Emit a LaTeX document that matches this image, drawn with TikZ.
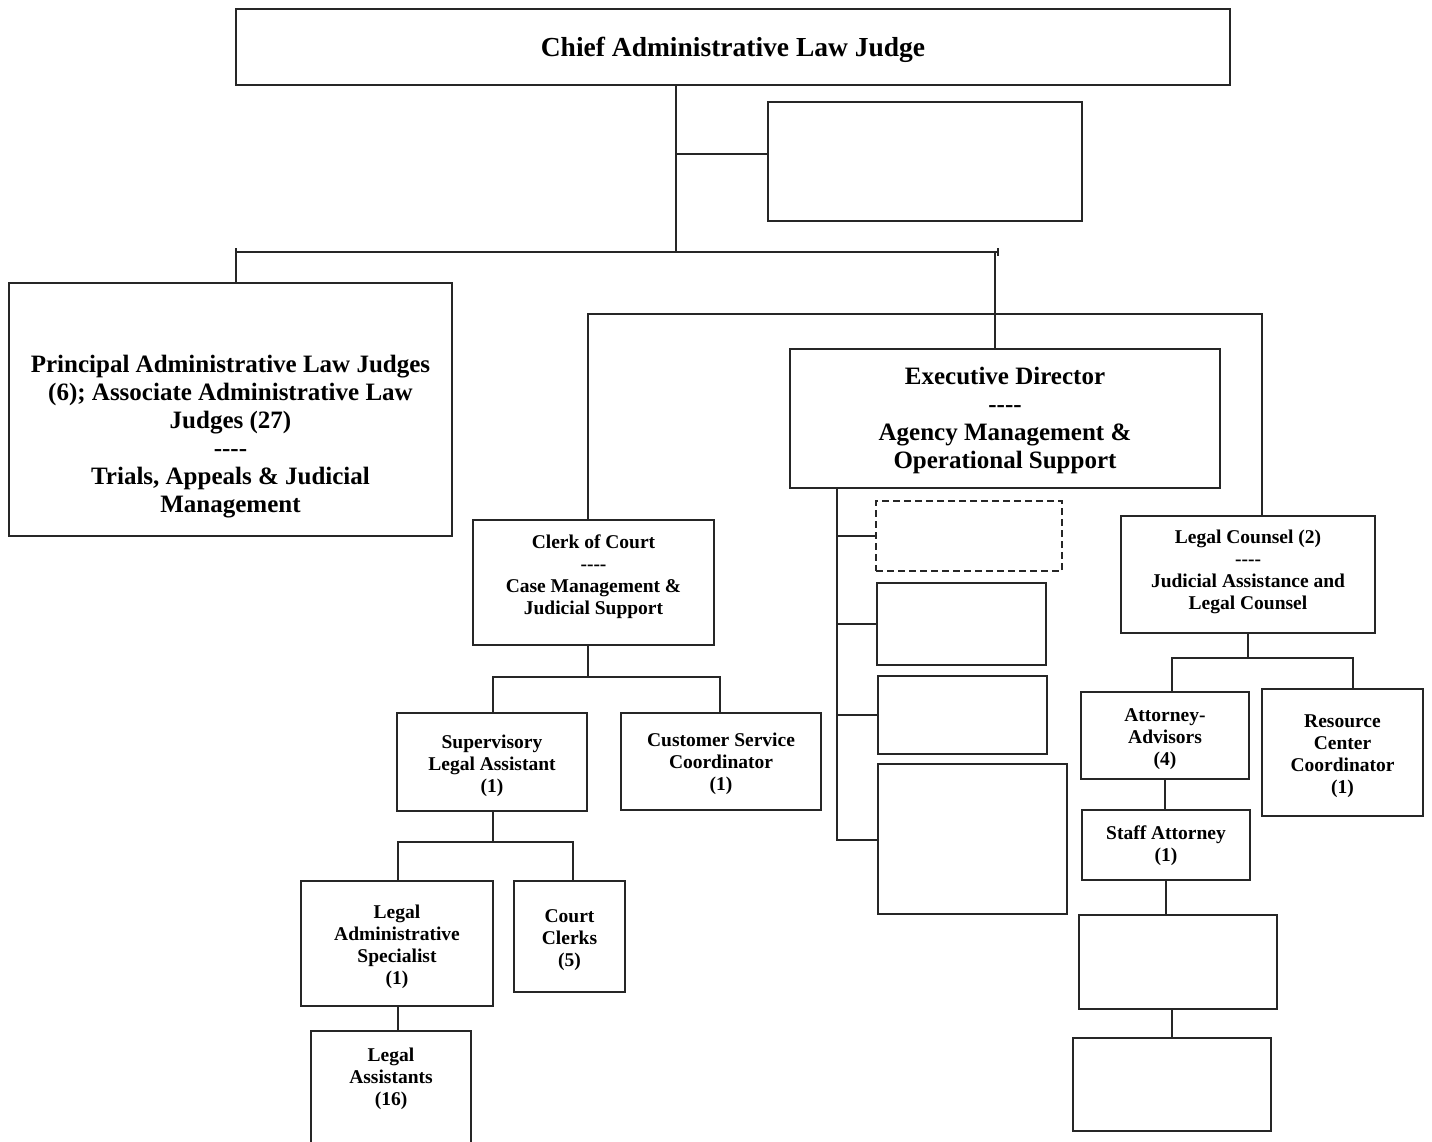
\documentclass[tikz,border=0pt]{standalone}
\usepackage{fontspec}
\setmainfont{Liberation Serif}
\newcommand\sepline{\mbox{-}\mbox{-}\mbox{-}\mbox{-}}
\newcommand\shifttext[2]{\raisebox{#1}[\height][\depth]{\begin{tabular}{@{}c@{}}#2\end{tabular}}}
\tikzset{
  orgbox/.style={draw=black!85, line width=1.2pt, align=center, inner sep=2pt,
    font=\bfseries\fontsize{19.5}{22}\selectfont},
  bigtext/.style={font=\bfseries\fontsize{25}{28}\selectfont},
  blankbox/.style={draw=black!85, line width=1.2pt, inner sep=0pt},
  wire/.style={black!85, line width=1.2pt},
}
\begin{document}
\begin{tikzpicture}[x=1pt,y=-1pt]
\useasboundingbox (0,0) rectangle (1432,1142);

% top
\node[orgbox, font=\bfseries\fontsize{27.5}{32}\selectfont, minimum width=994, minimum height=76] (chief) at (733,47) {\shifttext{-3pt}{Chief Administrative Law Judge}};
\node[blankbox, minimum width=314, minimum height=119] (staffbox) at (925,161.5) {};

% second level
\node[orgbox, bigtext, minimum width=443, minimum height=253] (princ) at (230.5,409.5) {\shifttext{-27pt}{Principal Administrative Law Judges\\(6); Associate Administrative Law\\Judges (27)\\\sepline\\Trials, Appeals \& Judicial\\Management}};
\node[orgbox, bigtext, minimum width=430, minimum height=139] (exec) at (1005,418.5) {\shifttext{-2pt}{Executive Director\\\sepline\\Agency Management \&\\Operational Support}};
\node[orgbox, minimum width=241, minimum height=125] (clerk) at (593.5,582.5) {\shifttext{5pt}{Clerk of Court\\\sepline\\Case Management \&\\Judicial Support}};
\node[orgbox, minimum width=254, minimum height=117] (counsel) at (1248,574.5) {\shifttext{2.5pt}{Legal Counsel (2)\\\sepline\\Judicial Assistance and\\Legal Counsel}};

% executive units
\node[blankbox, dashed, dash pattern=on 7pt off 4pt, minimum width=186, minimum height=70] (ops1) at (969,536) {};
\node[blankbox, minimum width=169, minimum height=82] (ops2) at (961.5,624) {};
\node[blankbox, minimum width=169, minimum height=78] (ops3) at (962.5,715) {};
\node[blankbox, minimum width=189, minimum height=150] (ops4) at (972.5,839) {};

% clerk units
\node[orgbox, minimum width=190, minimum height=98] (sla) at (492,762) {\shifttext{-4.5pt}{Supervisory\\Legal Assistant\\(1)}};
\node[orgbox, minimum width=200, minimum height=97] (csc) at (721,761.5) {\shifttext{-3pt}{Customer Service\\Coordinator\\(1)}};
\node[orgbox, minimum width=192, minimum height=125] (las) at (397,943.5) {\shifttext{-4pt}{Legal\\Administrative\\Specialist\\(1)}};
\node[orgbox, minimum width=111, minimum height=111] (clerks) at (569.5,936.5) {\shifttext{-4pt}{Court\\Clerks\\(5)}};
\node[orgbox, minimum width=160, minimum height=129] (legasst) at (391,1095.5) {\shifttext{16pt}{Legal\\Assistants\\(16)}};

% counsel units
\node[orgbox, minimum width=168, minimum height=87] (attys) at (1165,735.5) {\shifttext{-4pt}{Attorney-\\Advisors\\(4)}};
\node[orgbox, minimum width=161, minimum height=127] (rcc) at (1342.5,752.5) {\shifttext{-4pt}{Resource\\Center\\Coordinator\\(1)}};
\node[orgbox, minimum width=168, minimum height=70] (staff) at (1166,845) {\shifttext{-1.5pt}{Staff Attorney\\(1)}};
\node[blankbox, minimum width=198, minimum height=94] (blank1) at (1178,962) {};
\node[blankbox, minimum width=198, minimum height=93] (blank2) at (1172,1084.5) {};

% chief
\coordinate (top) at (676,252);
\coordinate (tap) at (676,154);
\draw[wire] (chief.south -| top) -- (top);
\draw[wire] (tap) -- (tap -| staffbox.west);

% first bar
\coordinate (barL) at (236,252);
\coordinate (barR) at (998,252);
\coordinate (ed) at (995,252);
\draw[wire] (barL) -- (barR);
\draw[wire] ([yshift=4pt]barL) -- (princ.north -| barL);
\draw[wire] ([yshift=4pt]barR) -- ([yshift=-4pt]barR);
\draw[wire] (ed) -- (exec.north -| ed);

% second bar
\coordinate (b2L) at (588,314);
\coordinate (b2R) at (1262,314);
\draw[wire] (clerk.north -| b2L) -- (b2L) -- (b2R) -- (counsel.north -| b2R);

% executive spine
\coordinate (spine) at (837,840);
\draw[wire] (exec.south -| spine) -- (spine) -- (spine -| ops4.west);
\foreach \unit in {ops1,ops2,ops3}
  \draw[wire] (\unit.west -| spine) -- (\unit.west);

% clerk tree
\coordinate (c1) at (588,677);
\coordinate (c1L) at (493,677);
\coordinate (c1R) at (720,677);
\draw[wire] (clerk.south -| c1) -- (c1);
\draw[wire] (sla.north -| c1L) -- (c1L) -- (c1R) -- (csc.north -| c1R);
\coordinate (c2) at (493,842);
\coordinate (c2L) at (398,842);
\coordinate (c2R) at (573,842);
\draw[wire] (sla.south -| c2) -- (c2);
\draw[wire] (las.north -| c2L) -- (c2L) -- (c2R) -- (clerks.north -| c2R);
\draw[wire] (las.south -| c2L) -- (legasst.north -| c2L);

% counsel tree
\coordinate (k1) at (1248,658);
\coordinate (k1L) at (1172,658);
\coordinate (k1R) at (1353,658);
\draw[wire] (counsel.south) -- (k1);
\draw[wire] (attys.north -| k1L) -- (k1L) -- (k1R) -- (rcc.north -| k1R);
\draw[wire] (attys.south) -- (attys.south |- staff.north);
\draw[wire] (staff.south) -- (staff.south |- blank1.north);
\draw[wire] (blank2.north) -- (blank2.north |- blank1.south);
\end{tikzpicture}
\end{document}
